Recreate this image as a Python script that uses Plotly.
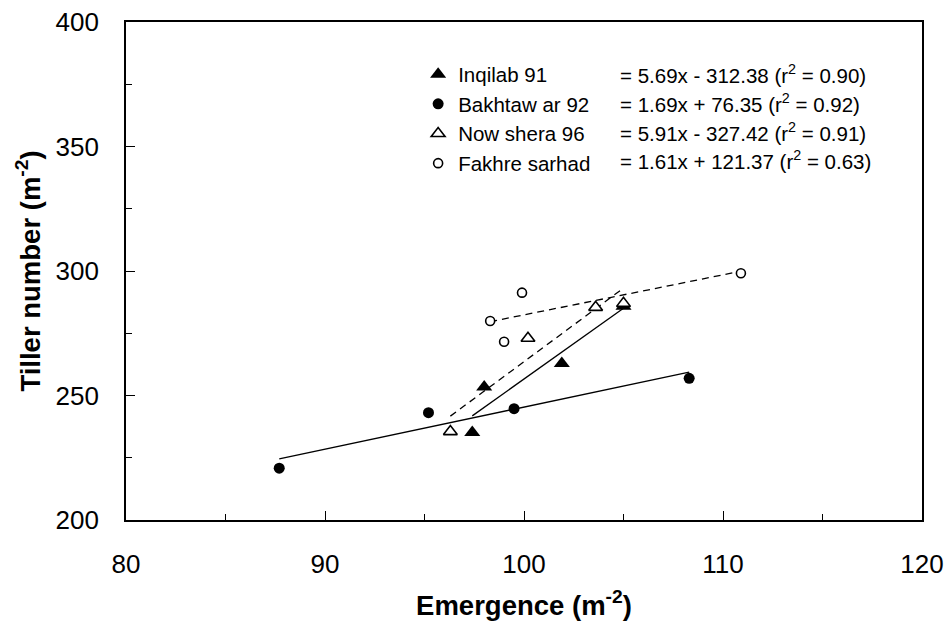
import plotly.graph_objects as go

# ---- data ----
series_names = ["Inqilab 91", "Bakhtaw ar 92", "Now shera 96", "Fakhre sarhad"]

inqilab_x = [97.4, 98.0, 101.9, 105.0]
inqilab_y = [235.1, 253.4, 262.9, 285.8]

bakhtawar_x = [87.7, 95.2, 99.5, 108.3]
bakhtawar_y = [220.8, 243.1, 244.7, 256.9]

nowshera_x = [96.3, 100.2, 103.6, 105.0]
nowshera_y = [235.5, 273.0, 285.4, 287.0]

fakhre_x = [98.3, 99.0, 99.9, 110.9]
fakhre_y = [279.9, 271.6, 291.3, 299.1]

slopes = [5.69, 1.69, 5.91, 1.61]
intercepts = [-312.38, 76.35, -327.42, 121.37]
r2_values = ["0.90", "0.92", "0.91", "0.63"]

x_ticks = [80, 90, 100, 110, 120]
y_ticks = [200, 250, 300, 350, 400]

# ---- styles ----
FONT = "Arial, Liberation Sans, sans-serif"
xs = [inqilab_x, bakhtawar_x, nowshera_x, fakhre_x]
ys = [inqilab_y, bakhtawar_y, nowshera_y, fakhre_y]
symbols = ["triangle-up", "circle", "triangle-up", "circle"]
fills = ["black", "black", "white", "white"]
sizes = [14, 11, 12, 9]
dashes = ["solid", "solid", "7px,5px", "7px,5px"]

fig = go.Figure()

# trend lines
for i in range(4):
    x0, x1 = min(xs[i]), max(xs[i])
    fig.add_trace(go.Scatter(
        x=[x0, x1],
        y=[slopes[i] * x0 + intercepts[i], slopes[i] * x1 + intercepts[i]],
        mode="lines", line=dict(color="black", width=1.3, dash=dashes[i]),
        showlegend=False, hoverinfo="skip"))

# markers
for i in range(4):
    fig.add_trace(go.Scatter(
        x=xs[i], y=ys[i], mode="markers", name=series_names[i],
        marker=dict(symbol=symbols[i], size=sizes[i], color=fills[i],
                    line=dict(color="black", width=1.6 if fills[i] == "white" else 0))))

# equation texts
def eq_text(s, b, r2):
    sign = "-" if b < 0 else "+"
    return f"= {s:.2f}x {sign} {abs(b):.2f} (r<sup>2</sup> = {r2})"

row_y = [0.8956, 0.8373, 0.7791, 0.7229]
for i in range(4):
    fig.add_annotation(x=0.618, y=row_y[i], xref="paper", yref="paper",
                       xanchor="left", yanchor="middle", showarrow=False,
                       text=eq_text(slopes[i], intercepts[i], r2_values[i]),
                       font=dict(family=FONT, size=20.5, color="black"))

axis_common = dict(
    showgrid=False, zeroline=False, showline=True, linecolor="black", linewidth=1.8,
    mirror=True, ticks="inside", tickcolor="black", tickwidth=1.2, ticklen=9,
    tickfont=dict(family=FONT, size=26, color="black"), automargin=False,
)

fig.update_layout(
    width=946, height=621,
    margin=dict(l=126, r=24, t=22, b=101),
    paper_bgcolor="white", plot_bgcolor="white",
    xaxis=dict(range=[80, 120], tickvals=x_ticks, ticklabelstandoff=20,
               minor=dict(dtick=5, ticks="inside", ticklen=6, tickcolor="black", tickwidth=1.2),
               title=dict(text="Emergence (m<sup>-2</sup>)", standoff=18,
                          font=dict(family=FONT, size=27.5, color="black", weight="bold")),
               **axis_common),
    yaxis=dict(range=[200, 400], tickvals=y_ticks, ticklabelstandoff=20,
               minor=dict(dtick=25, ticks="inside", ticklen=6, tickcolor="black", tickwidth=1.2),
               title=dict(text="Tiller number (m<sup>-2</sup>)", standoff=7,
                          font=dict(family=FONT, size=27.5, color="black", weight="bold")),
               **axis_common),
    legend=dict(x=0.367, y=0.935, xanchor="left", yanchor="top",
                font=dict(family=FONT, size=20.5, color="black"),
                bgcolor="rgba(0,0,0,0)", tracegroupgap=0),
    showlegend=True,
)

fig.write_html("out.html")
